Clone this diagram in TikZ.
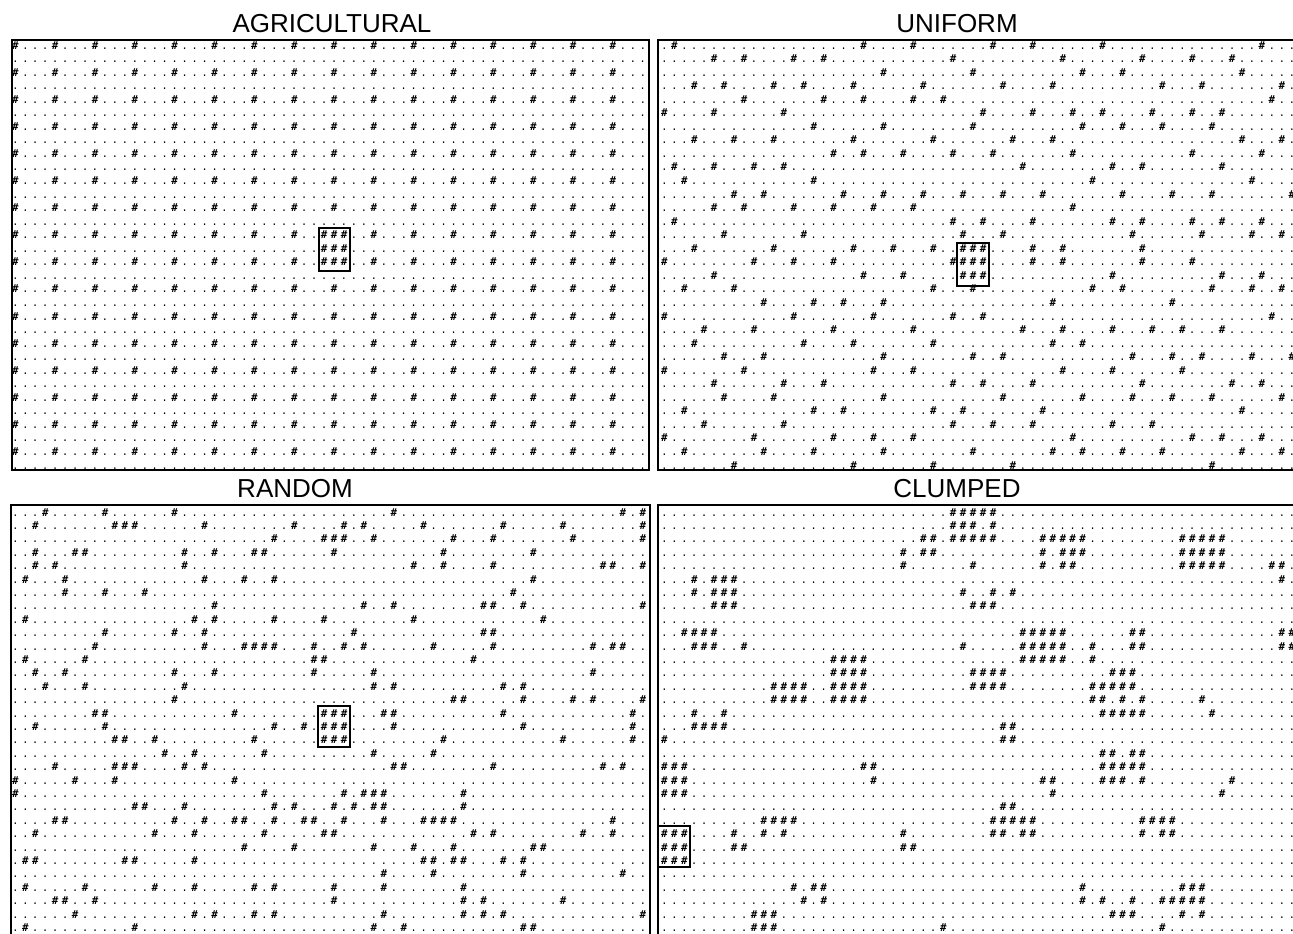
\documentclass[tikz,border=0pt]{standalone}
\usepackage{fontspec}
\setmainfont{Liberation Sans}
\newfontfamily\gridfont{Liberation Mono}
\newfontfamily\hashfont{DejaVu Sans Mono}
\makeatletter
\newcount\gridc
\newdimen\gridpitch
\gridpitch=4.98pt
\def\mkrow#1{\gridc=0 \def\grid@list{,#1,}\grid@loop}
\def\grid@loop{%
  \ifnum\gridc<64
    \edef\grid@tmp{\noexpand\in@{,\the\gridc,}{\grid@list}}\grid@tmp
    \ifin@\hbox to\gridpitch{\hss\hashfont\bfseries\fontsize{5.4}{6}\selectfont\#\hss}\else\hbox to\gridpitch{\hss.\hss}\fi
    \advance\gridc by 1
    \expandafter\grid@loop
  \fi}
\makeatother
\def\agE{0,4,8,12,16,20,24,28,32,36,40,44,48,52,56,60}
\tikzset{
  gridrow/.style={anchor=base west, inner sep=0pt, font=\gridfont\fontsize{5.5}{6}\selectfont},
  panelbox/.style={draw, line width=1.2pt},
  winbox/.style={draw, line width=1pt},
  ttl/.style={anchor=base, inner sep=0pt, font=\fontsize{13}{15}\selectfont}
}
\newcommand\trow[4]{\node[gridrow] (#1) at (#2,{49+13.55*#3}) {\mkrow{#4}};}
\newcommand\brow[4]{\node[gridrow] (#1) at (#2,{516+13.4*#3}) {\mkrow{#4}};}
\begin{document}
\begin{tikzpicture}[x=0.5pt,y=-0.5pt]
\useasboundingbox (0,0) rectangle (1293,933);
\clip (0,0) rectangle (1293,933);
% titles
\node[ttl] (tA) at (332,32) {AGRICULTURAL};
\node[ttl] (tU) at (957,32) {UNIFORM};
\node[ttl] (tR) at (295,497) {RANDOM};
\node[ttl] (tC) at (957,497) {CLUMPED};
% frames
\draw[panelbox] (12,40) rectangle (649,470);
\draw[panelbox] (658,40) rectangle (1310,470);
\draw[panelbox] (11,505) rectangle (650,950);
\draw[panelbox] (658,505) rectangle (1310,950);
% AGRICULTURAL
\trow{a0}{10}{0}{\agE}
\trow{a1}{10}{1}{}
\trow{a2}{10}{2}{\agE}
\trow{a3}{10}{3}{}
\trow{a4}{10}{4}{\agE}
\trow{a5}{10}{5}{}
\trow{a6}{10}{6}{\agE}
\trow{a7}{10}{7}{}
\trow{a8}{10}{8}{\agE}
\trow{a9}{10}{9}{}
\trow{a10}{10}{10}{\agE}
\trow{a11}{10}{11}{}
\trow{a12}{10}{12}{\agE}
\trow{a13}{10}{13}{}
\trow{a14}{10}{14}{\agE,31,33}
\trow{a15}{10}{15}{31,32,33}
\trow{a16}{10}{16}{\agE,31,33}
\trow{a17}{10}{17}{}
\trow{a18}{10}{18}{\agE}
\trow{a19}{10}{19}{}
\trow{a20}{10}{20}{\agE}
\trow{a21}{10}{21}{}
\trow{a22}{10}{22}{\agE}
\trow{a23}{10}{23}{}
\trow{a24}{10}{24}{\agE}
\trow{a25}{10}{25}{}
\trow{a26}{10}{26}{\agE}
\trow{a27}{10}{27}{}
\trow{a28}{10}{28}{\agE}
\trow{a29}{10}{29}{}
\trow{a30}{10}{30}{\agE}
\trow{a31}{10}{31}{}
\draw[winbox] (319,228) rectangle (350,271);
% UNIFORM
\trow{u0}{659}{0}{1,20,25,33,37,44,60}
\trow{u1}{659}{1}{5,8,13,16,29,40,48,53,57}
\trow{u2}{659}{2}{22,31,42,46,58}
\trow{u3}{659}{3}{3,6,11,14,19,26,34,39,50,54,62}
\trow{u4}{659}{4}{8,16,20,25,28,61}
\trow{u5}{659}{5}{0,5,12,32,37,41,44,49,53,56}
\trow{u6}{659}{6}{15,22,31,42,46,50,55}
\trow{u7}{659}{7}{3,7,11,19,27,35,39,58,62}
\trow{u8}{659}{8}{17,20,24,29,33,41,53,60}
\trow{u9}{659}{9}{1,5,9,12,36,45,48,56}
\trow{u10}{659}{10}{2,15,43,59}
\trow{u11}{659}{11}{7,10,18,22,26,30,34,38,46,51,55,63}
\trow{u12}{659}{12}{5,8,13,17,21,25,41}
\trow{u13}{659}{13}{1,29,32,37,45,48,53,56,60}
\trow{u14}{659}{14}{6,14,30,34,47,54,59,62}
\trow{u15}{659}{15}{3,11,19,23,27,30,31,32,37,40,48}
\trow{u16}{659}{16}{0,9,13,17,29,30,31,32,37,40,48,53}
\trow{u17}{659}{17}{5,20,24,30,31,32,45,56,60}
\trow{u18}{659}{18}{2,7,27,31,43,46,55,59,62}
\trow{u19}{659}{19}{10,15,18,22,39,51}
\trow{u20}{659}{20}{0,13,21,29,32,61}
\trow{u21}{659}{21}{4,9,17,25,36,40,45,49,52,56}
\trow{u22}{659}{22}{3,14,19,27,39,42}
\trow{u23}{659}{23}{6,10,22,31,34,47,51,54,59,63}
\trow{u24}{659}{24}{0,8,21,25,40,45,52}
\trow{u25}{659}{25}{5,12,16,29,32,37,48,57,60}
\trow{u26}{659}{26}{6,11,22,34,42,47,51,55,62}
\trow{u27}{659}{27}{2,15,18,27,30,38,58}
\trow{u28}{659}{28}{4,12,29,33,37,45,49}
\trow{u29}{659}{29}{0,9,17,21,25,41,53,56,60}
\trow{u30}{659}{30}{2,10,15,22,31,39,42,46,50,58,62}
\trow{u31}{659}{31}{7,19,27,35,55}
\draw[winbox] (957,243) rectangle (989,286);
% RANDOM
\brow{r0}{10}{0}{3,9,16,38,61,63}
\brow{r1}{10}{1}{2,10,11,12,19,28,33,35,41,49,55,63}
\brow{r2}{10}{2}{26,31,32,33,36,44,48,56,63}
\brow{r3}{10}{3}{2,6,7,17,20,24,25,32,43,52}
\brow{r4}{10}{4}{2,4,17,40,43,48,59,60,63}
\brow{r5}{10}{5}{1,5,19,23,26,52}
\brow{r6}{10}{6}{5,9,13,50}
\brow{r7}{10}{7}{20,35,38,47,48,51,63}
\brow{r8}{10}{8}{1,18,20,26,31,40,53}
\brow{r9}{10}{9}{9,16,19,34,47,48}
\brow{r10}{10}{10}{8,19,23,24,25,26,30,33,35,42,48,58,60,61}
\brow{r11}{10}{11}{1,7,30,31,46}
\brow{r12}{10}{12}{2,5,16,20,30,36,58}
\brow{r13}{10}{13}{3,7,17,36,38,49,51}
\brow{r14}{10}{14}{16,44,45,51,56,58,63}
\brow{r15}{10}{15}{8,9,22,31,32,33,37,38,49,62}
\brow{r16}{10}{16}{2,9,26,29,31,32,33,38,51,62}
\brow{r17}{10}{17}{10,11,14,24,31,32,33,43,55,62}
\brow{r18}{10}{18}{15,18,25,36,42}
\brow{r19}{10}{19}{4,10,11,12,17,19,38,39,48,59,61}
\brow{r20}{10}{20}{0,6,10,22}
\brow{r21}{10}{21}{0,25,33,35,36,37,45}
\brow{r22}{10}{22}{12,13,17,26,28,32,34,36,37,45}
\brow{r23}{10}{23}{4,5,16,19,22,23,26,29,30,33,37,41,42,43,44,60}
\brow{r24}{10}{24}{2,14,18,25,31,32,46,48,57,60}
\brow{r25}{10}{25}{23,28,36,40,44,52,53}
\brow{r26}{10}{26}{1,2,11,12,18,41,42,44,45,49,51}
\brow{r27}{10}{27}{37,42,51,61}
\brow{r28}{10}{28}{1,7,14,18,24,26,32,37,45}
\brow{r29}{10}{29}{4,5,8,32,45,47,55}
\brow{r30}{10}{30}{6,18,20,24,26,37,45,47,49,63}
\brow{r31}{10}{31}{1,12,36,39,51,52}
\draw[winbox] (318,706) rectangle (350,747);
% CLUMPED
\brow{c0}{659}{0}{29,30,31,32,33}
\brow{c1}{659}{1}{29,30,31,33}
\brow{c2}{659}{2}{26,27,29,30,31,32,33,38,39,40,41,42,52,53,54,55,56}
\brow{c3}{659}{3}{24,26,27,38,40,41,42,52,53,54,55,56}
\brow{c4}{659}{4}{24,31,38,40,41,52,53,54,55,56,61,62}
\brow{c5}{659}{5}{3,5,6,7,62}
\brow{c6}{659}{6}{3,5,6,7,30,33,35}
\brow{c7}{659}{7}{5,6,7,31,32,33}
\brow{c8}{659}{8}{}
\brow{c9}{659}{9}{2,3,4,5,36,37,38,39,40,47,48,62,63}
\brow{c10}{659}{10}{3,4,5,8,30,36,37,38,39,40,43,47,48,62,63}
\brow{c11}{659}{11}{17,18,19,20,36,37,38,39,40,43}
\brow{c12}{659}{12}{17,18,19,20,31,32,33,34,45,46,47}
\brow{c13}{659}{13}{11,12,13,14,17,18,19,20,31,32,33,34,43,44,45,46,47}
\brow{c14}{659}{14}{11,12,13,14,17,18,19,20,43,44,46,48,54}
\brow{c15}{659}{15}{3,6,44,45,46,47,48,55}
\brow{c16}{659}{16}{3,4,5,6,34,35}
\brow{c17}{659}{17}{0,34,35}
\brow{c18}{659}{18}{44,45,47,48}
\brow{c19}{659}{19}{0,1,2,20,21,44,45,46,47,48}
\brow{c20}{659}{20}{0,1,2,21,38,39,44,45,46,48,57}
\brow{c21}{659}{21}{0,1,2,39,56}
\brow{c22}{659}{22}{34,35}
\brow{c23}{659}{23}{10,11,12,13,33,34,35,36,37,48,49,50,51}
\brow{c24}{659}{24}{0,1,2,7,10,12,24,33,34,36,37,48,50,51}
\brow{c25}{659}{25}{0,1,2,7,8,24,25}
\brow{c26}{659}{26}{0,1,2}
\brow{c27}{659}{27}{}
\brow{c28}{659}{28}{13,15,16,42,52,53,54}
\brow{c29}{659}{29}{14,16,42,44,47,50,51,52,53,54}
\brow{c30}{659}{30}{9,10,11,45,46,47,52,54}
\brow{c31}{659}{31}{9,10,11,28,50}
\draw[winbox] (658,826) rectangle (690,867);
\end{tikzpicture}
\end{document}
